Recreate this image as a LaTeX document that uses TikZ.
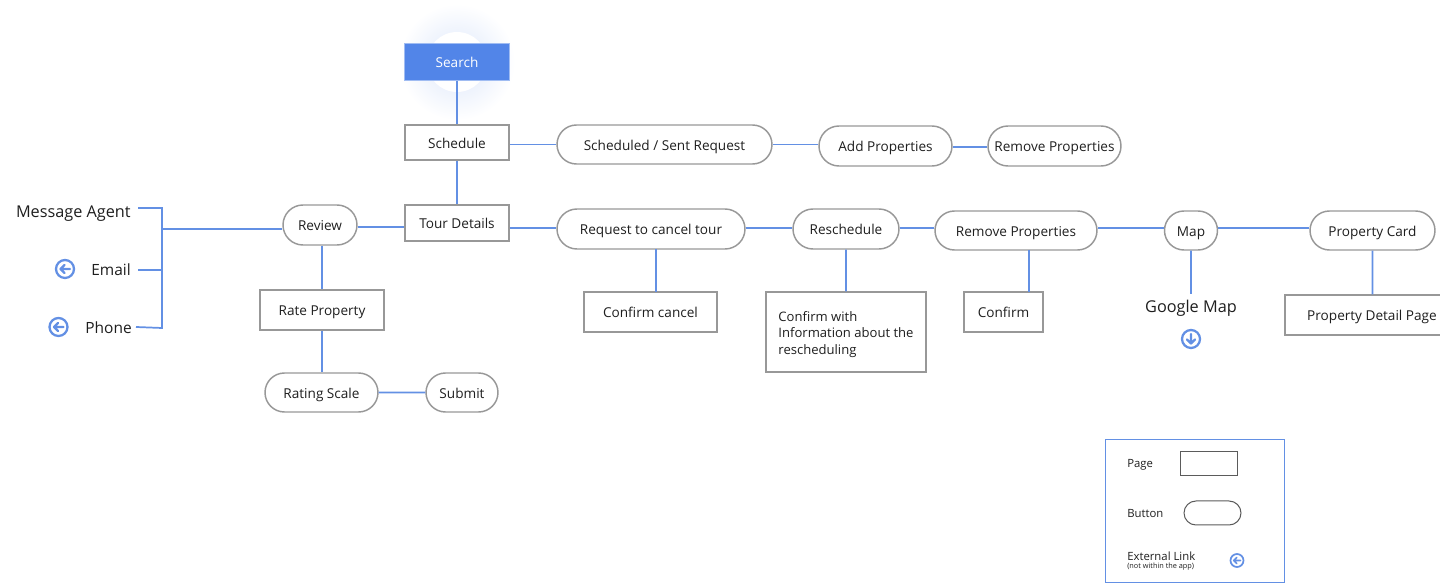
\documentclass[tikz,border=0pt]{standalone}
\usepackage{fontspec}
\setmainfont{Open Sans}
\usetikzlibrary{shapes.misc}
\definecolor{linkblue}{HTML}{6390E4}
\definecolor{searchblue}{HTML}{5285E8}
\definecolor{boxgray}{HTML}{989898}
\definecolor{inkdark}{HTML}{1E1E1E}
\tikzset{
    dims/.style 2 args={minimum width=#1*0.75pt,minimum height=#2*0.75pt,inner sep=0pt},
    boxfont/.style={font=\fontsize{10.2}{12.2}\selectfont,text height=9.4pt,text depth=0.4pt},
    pagebox/.style={rectangle,draw=boxgray,line width=1.1pt,text=inkdark,boxfont},
    pillbox/.style={rounded rectangle,draw=boxgray,line width=1.1pt,text=inkdark,boxfont},
    bigtext/.style={text=inkdark,inner sep=0pt,font=\fontsize{12.2}{14}\selectfont},
    midtext/.style={text=inkdark,inner sep=0pt,font=\fontsize{11.6}{14}\selectfont},
    smalltext/.style={text=inkdark,inner sep=0pt,anchor=west,font=\fontsize{8.5}{10}\selectfont},
    wire/.style={draw=linkblue,line width=1.3pt},
    linkicon/.style={circle,draw=linkblue,line width=#1,inner sep=0pt},
    linkicon/.default=1.7pt
}
\newcommand{\extlink}[5]{%
    \node[linkicon=#4,minimum size=#5*1.5pt] (#1) at (#2) {};
    \draw[draw=linkblue,line width=#4,line cap=round,line join=round,rotate=#3]
        (#1.center) ++(0.55*#5,0) -- ++(-1.05*#5,0) ++(0.45*#5,0.45*#5) -- ++(-0.45*#5,-0.45*#5) -- ++(0.45*#5,-0.45*#5);
}
\begin{document}
\begin{tikzpicture}[x=0.75pt,y=-0.75pt]
    \useasboundingbox (0,0) rectangle (1440,584);
    % search
    \shade[inner color=searchblue!20,outer color=white] (457,62) circle (58);
    \fill[white] (457,62) circle (30);
    \node[dims={105}{37},fill=searchblue,draw=searchblue!55,line width=.5pt,text=white,boxfont] (search) at (457,62) {Search};
    % top row
    \node[pagebox,dims={104}{35}] (schedule) at (457,142.5) {Schedule};
    \node[pillbox,dims={215}{39}] (sent) at (664.5,144.5) {Scheduled / Sent Request};
    \node[pillbox,dims={133}{40}] (addprop) at (885.5,146) {Add Properties};
    \node[pillbox,dims={133}{40}] (removeprop) at (1054.5,146) {Remove Properties};
    % middle row
    \node[pagebox,dims={104}{36}] (tour) at (457,223) {Tour Details};
    \node[pillbox,dims={74}{40}] (review) at (320,225) {Review};
    \node[pillbox,dims={188}{40}] (cancel) at (651,229) {Request to cancel tour};
    \node[pillbox,dims={106}{40}] (reschedule) at (846,229) {Reschedule};
    \node[pillbox,dims={162}{39}] (removetour) at (1016,230.5) {Remove Properties};
    \node[pillbox,dims={53}{39}] (map) at (1191,230.5) {Map};
    \node[pillbox,dims={125}{39}] (card) at (1372.5,230.5) {Property Card};
    % lower boxes
    \node[pagebox,dims={124}{40}] (rate) at (322,310) {Rate Property};
    \node[pillbox,dims={113}{39}] (scale) at (321.5,392.5) {Rating Scale};
    \node[pillbox,dims={72}{39}] (submit) at (462,392.5) {Submit};
    \node[pagebox,dims={133}{40}] (confirmcancel) at (650.5,312) {Confirm cancel};
    \node[pagebox,dims={160}{80},align=left,text height=,text depth=,font=\fontsize{9.8}{12.2}\selectfont] (confirminfo) at (846,332) {\rule{0pt}{11pt}Confirm with\\Information about the\hspace*{3pt}\\rescheduling};
    \node[pagebox,dims={79}{40}] (confirm) at (1003.5,312) {Confirm};
    \node[bigtext] (googlemap) at (1191,308.5) {Google Map};
    \node[pagebox,dims={174}{40}] (detail) at (1372,315) {Property Detail Page};
    \extlink{mapicon}{1191,339}{90}{1.7pt}{9}
    % left texts
    \node[bigtext,anchor=east] (agent) at (131,213.5) {Message Agent};
    \node[midtext,anchor=east] (email) at (131,269.5) {Email};
    \node[midtext,anchor=east] (phone) at (132,327.5) {Phone};
    \extlink{emailicon}{65,269}{0}{1.7pt}{9}
    \extlink{phoneicon}{58.5,327}{0}{1.7pt}{9}
    \coordinate (agentend) at (138,208);
    \coordinate (emailend) at (138,270);
    \coordinate (phoneend) at (136,327);
    \coordinate (brackettop) at (162,208);
    \coordinate (bracketbot) at (162,328);
    \coordinate (bracketmid) at (162,229);
    \coordinate (midrow) at (0,228);
    % connectors
    \draw[wire] (search) -- (schedule);
    \draw[wire] (schedule) -- (tour);
    \draw[wire] (sent.west) -- (sent.west -| schedule.east);
    \draw[wire] (sent.east) -- (sent.east -| addprop.west);
    \draw[wire] (addprop.east |- 0,147) -- (removeprop.west |- 0,147);
    \draw[wire] (review.east |- 0,227) -- (tour.west |- 0,227);
    \draw[wire] (tour.east |- midrow) -- (cancel.west |- midrow);
    \draw[wire] (cancel.east |- midrow) -- (reschedule.west |- midrow);
    \draw[wire] (reschedule.east |- midrow) -- (removetour.west |- midrow);
    \draw[wire] (removetour.east |- midrow) -- (map.west |- midrow);
    \draw[wire] (map.east |- midrow) -- (card.west |- midrow);
    \draw[wire] (review.south -| rate.north) -- (rate);
    \draw[wire] (rate) -- (rate |- scale.north);
    \draw[wire] (scale) -- (submit.west |- scale);
    \draw[wire] (656,249) -- (656,292);
    \draw[wire] (reschedule) -- (confirminfo);
    \draw[wire] (1029,250) -- (1029,292);
    \draw[wire] (map) -- (1191,294);
    \draw[wire] (card) -- (card |- detail.north);
    \draw[wire] (agentend) -- (brackettop) -- (bracketbot) -- (phoneend);
    \draw[wire] (emailend) -- (emailend -| brackettop);
    \draw[wire] (bracketmid) -- (bracketmid -| review.west);
    % legend
    \node[rectangle,draw=linkblue,line width=.75pt,dims={179}{143}] (legend) at (1194.5,511.5) {};
    \node[smalltext] (pagelabel) at (1127,465) {Page};
    \node[smalltext] (buttonlabel) at (1127,513.5) {Button};
    \node[smalltext] (externallabel) at (1127,556.5) {External Link};
    \node[smalltext,font=\fontsize{5.5}{6}\selectfont] (externalnote) at (1127,567) {(not within the app)};
    \node[rectangle,draw=boxgray!60!black,line width=.75pt,dims={57}{24}] (pagekey) at (1208.5,464) {};
    \node[rounded rectangle,draw=boxgray!60!black,line width=.75pt,dims={57}{24}] (buttonkey) at (1212.5,513) {};
    \extlink{externalkey}{1237,560.5}{0}{1.3pt}{6.5}
\end{tikzpicture}
\end{document}
